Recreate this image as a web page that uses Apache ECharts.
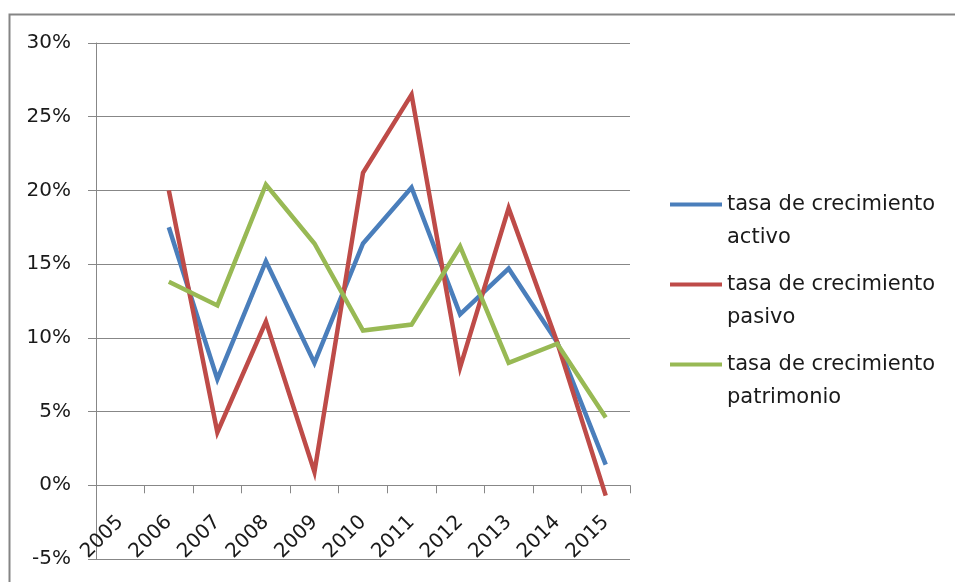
<!DOCTYPE html>
<html>
<head>
<meta charset="utf-8">
<script src="https://cdn.jsdelivr.net/npm/echarts@6/dist/echarts.min.js"></script>
<style>
  html, body { margin: 0; padding: 0; background: #ffffff; }
  #chart { width: 955px; height: 582px; }
</style>
</head>
<body>
<div id="chart"></div>
<script>
// Annual growth rates (%), 2005 has no value
const years = ['2005', '2006', '2007', '2008', '2009', '2010', '2011', '2012', '2013', '2014', '2015'];
const activo = [null, 17.5, 7.2, 15.2, 8.3, 16.4, 20.2, 11.6, 14.7, 9.7, 1.4];
const pasivo = [null, 20.0, 3.6, 11.1, 0.9, 21.2, 26.5, 8.0, 18.8, 9.7, -0.7];
const patrimonio = [null, 13.8, 12.2, 20.4, 16.4, 10.5, 10.9, 16.2, 8.3, 9.6, 4.6];
const seriesNames = ['tasa de crecimiento activo', 'tasa de crecimiento pasivo', 'tasa de crecimiento patrimonio'];
const colors = ['#4A7EBB', '#BE4B48', '#98B954'];

const FONT = 'DejaVu Sans';
const gridColor = '#878787';

const chart = echarts.init(document.getElementById('chart'), null, { renderer: 'canvas' });

const valueSets = [activo, pasivo, patrimonio];

chart.setOption({
  backgroundColor: '#ffffff',
  animation: false,
  color: colors,
  graphic: [{
    type: 'rect',
    left: 7, top: 12,
    shape: { width: 1000, height: 700 },
    style: { fill: 'none', stroke: '#858585', lineWidth: 2 },
    silent: true
  }],
  grid: { left: 96, right: 325, top: 43, bottom: 23, outerBoundsMode: 'none', containLabel: false },
  legend: {
    orient: 'vertical',
    left: 670,
    top: 155,
    padding: 0,
    itemWidth: 52,
    itemHeight: 4,
    itemGap: -19,
    icon: 'rect',
    data: seriesNames,
    formatter: name => '\n' + name.replace('crecimiento ', 'crecimiento\n'),
    textStyle: { fontFamily: FONT, fontSize: 21, color: '#1a1a1a', lineHeight: 33 }
  },
  xAxis: {
    type: 'category',
    data: years,
    boundaryGap: true,
    axisLine: { onZero: true, lineStyle: { color: gridColor, width: 1 } },
    axisTick: { show: true, interval: 0, length: 8, lineStyle: { color: gridColor } },
    // labels hang just under the zero line
    axisLabel: { interval: 0, rotate: 45, margin: -40, fontFamily: FONT, fontSize: 20, color: '#1a1a1a' },
    splitLine: { show: false }
  },
  yAxis: {
    type: 'value',
    min: -5, max: 30, interval: 5,
    axisLine: { show: true, lineStyle: { color: gridColor, width: 1 } },
    axisTick: { show: true, length: 8, lineStyle: { color: gridColor } },
    axisLabel: { formatter: '{value}%', margin: 25, padding: [3, 0, 0, 0], fontFamily: FONT, fontSize: 20, color: '#1a1a1a' },
    splitLine: { show: true, lineStyle: { color: gridColor, width: 1 } }
  },
  series: seriesNames.map((name, i) => ({
    name: name,
    type: 'line',
    data: valueSets[i],
    showSymbol: false,
    symbol: 'none',
    connectNulls: false,
    lineStyle: { width: 4.5, color: colors[i], join: 'miter' },
    itemStyle: { color: colors[i] }
  }))
});
</script>
</body>
</html>
